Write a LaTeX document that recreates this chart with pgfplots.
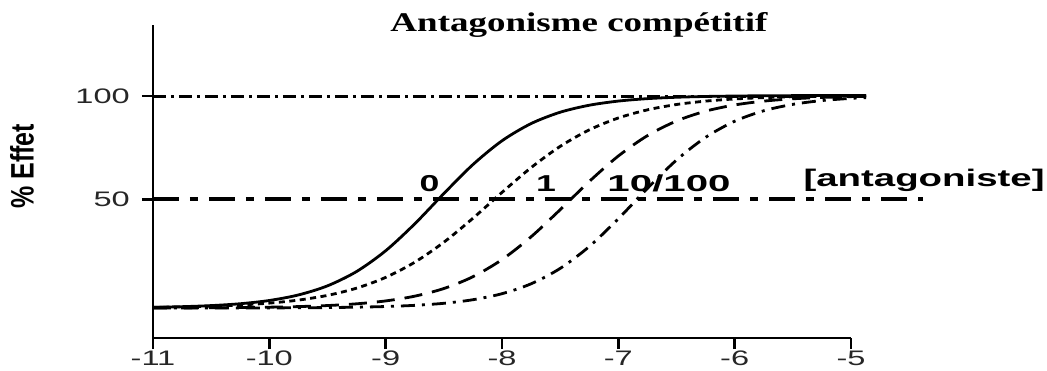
\documentclass[border=0pt]{standalone}
\usepackage{pgfplots}
\pgfplotsset{compat=1.18}
\usepackage{graphicx}
\usepackage{fontspec}
\setmainfont{Liberation Sans}
\newfontfamily\titlefont{Liberation Serif}
\newcommand{\sx}[2][1.55]{\scalebox{#1}[1]{#2}}

\begin{document}
\begin{tikzpicture}
\begin{axis}[
  scale only axis, width=698pt, height=313pt,
  xmin=-11, xmax=-5, ymin=-17.1, ymax=134.4,
  axis x line=bottom, axis y line=left,
  axis line style={-, line width=2.6pt},
  tick style={line width=2.6pt, black},
  major tick length=11pt,
  tick align=outside,
  xtick={-11,-10,-9,-8,-7,-6,-5},
  xticklabels={\sx{-11},\sx{-10},\sx{-9},\sx{-8},\sx{-7},\sx{-6},\sx{-5}},
  ytick={50,100},
  yticklabels={\sx{50},\sx{100}},
  ticklabel style={font=\fontsize{21}{21}\selectfont, text=black!85},
  xticklabel style={inner sep=1pt, yshift=-1pt},
  yticklabel style={inner sep=0pt, xshift=-12pt},
  clip=false,
]
% reference lines
\addplot[black, line width=4pt, dash pattern=on 26pt off 11pt on 8pt off 11pt] coordinates {(-11,50) (-4.38,50)};
\addplot[black, line width=3pt, dash pattern=on 13pt off 5pt on 3pt off 5pt] coordinates {(-11,100) (-4.87,100)};
% [antagoniste] = 0
\addplot[black, line width=2.8pt, smooth] coordinates {
(-11,-2.22) (-10.75,-1.93) (-10.5,-1.41) (-10.25,-0.51) (-10,1.06) (-9.75,3.74) (-9.5,8.15) (-9.25,15.08)
(-9,25.13) (-8.75,38.15) (-8.5,52.81) (-8.25,66.84) (-8,78.36) (-7.75,86.69) (-7.5,92.18) (-7.25,95.57)
(-7,97.58) (-6.75,98.76) (-6.5,99.43) (-6.25,99.81) (-6,100.02) (-5.75,100.15) (-5.5,100.21) (-5.25,100.25)
(-5,100.27) (-4.87,100.28)};
% [antagoniste] = 1
\addplot[black, line width=2.8pt, smooth, dash pattern=on 6pt off 4.5pt] coordinates {
(-11,-2.26) (-10.75,-2.04) (-10.5,-1.69) (-10.25,-1.12) (-10,-0.21) (-9.75,1.25) (-9.5,3.53) (-9.25,7.03)
(-9,12.24) (-8.75,19.58) (-8.5,29.25) (-8.25,40.85) (-8,53.37) (-7.75,65.37) (-7.5,75.65) (-7.25,83.64)
(-7,89.40) (-6.75,93.33) (-6.5,95.92) (-6.25,97.56) (-6,98.60) (-5.75,99.25) (-5.5,99.66) (-5.25,99.90)
(-5,100.06) (-4.87,100.1)};
% [antagoniste] = 10
\addplot[black, line width=2.8pt, smooth, dash pattern=on 18pt off 10pt] coordinates {
(-11,-2.55) (-10.75,-2.52) (-10.5,-2.46) (-10.25,-2.36) (-10,-2.18) (-9.75,-1.89) (-9.5,-1.39) (-9.25,-0.55)
(-9,0.85) (-8.75,3.15) (-8.5,6.85) (-8.25,12.56) (-8,20.85) (-7.75,31.88) (-7.5,45.00) (-7.25,58.65)
(-7,70.99) (-6.75,80.84) (-6.5,87.94) (-6.25,92.69) (-6,95.70) (-5.75,97.56) (-5.5,98.68) (-5.25,99.34)
(-5,99.74) (-4.87,99.87)};
% [antagoniste] = 100
\addplot[black, line width=2.8pt, smooth, dash pattern=on 14pt off 7pt on 3pt off 7pt] coordinates {
(-11,-2.59) (-10.75,-2.59) (-10.5,-2.58) (-10.25,-2.56) (-10,-2.53) (-9.75,-2.47) (-9.5,-2.36) (-9.25,-2.18)
(-9,-1.86) (-8.75,-1.29) (-8.5,-0.30) (-8.25,1.43) (-8,4.35) (-7.75,9.14) (-7.5,16.58) (-7.25,27.18)
(-7,40.64) (-6.75,55.33) (-6.5,69.04) (-6.25,80.02) (-6,87.82) (-5.75,92.89) (-5.5,95.99) (-5.25,97.83)
(-5,98.90) (-4.87,99.26)};
% texts
\node[anchor=base] at (axis cs:-7.338,131.1) {\titlefont\bfseries\fontsize{27}{27}\selectfont\sx[1.37]{Antagonisme compétitif}};
\node[rotate=90] at (axis cs:-12.126,66.1) {\bfseries\fontsize{25}{25}\selectfont\scalebox{1}[1.3]{\% Effet}};
\node[anchor=base] at (axis cs:-8.623,53.7) {\bfseries\fontsize{23}{23}\selectfont\sx{0}};
\node[anchor=base] at (axis cs:-7.622,53.7) {\bfseries\fontsize{23}{23}\selectfont\sx{1}};
\node[anchor=base] at (axis cs:-6.564,53.7) {\bfseries\fontsize{23}{23}\selectfont\sx[1.75]{10/100}};
\node[anchor=base] at (axis cs:-4.372,56.1) {\bfseries\fontsize{24}{24}\selectfont\sx[1.6]{[antagoniste]}};
\coordinate (bbll) at (rel axis cs:-0.2192,-0.1054);
\coordinate (bbur) at (rel axis cs:1.2808,1.0799);
\end{axis}
\pgfresetboundingbox
\useasboundingbox (bbll) rectangle (bbur);
\end{tikzpicture}
\end{document}
